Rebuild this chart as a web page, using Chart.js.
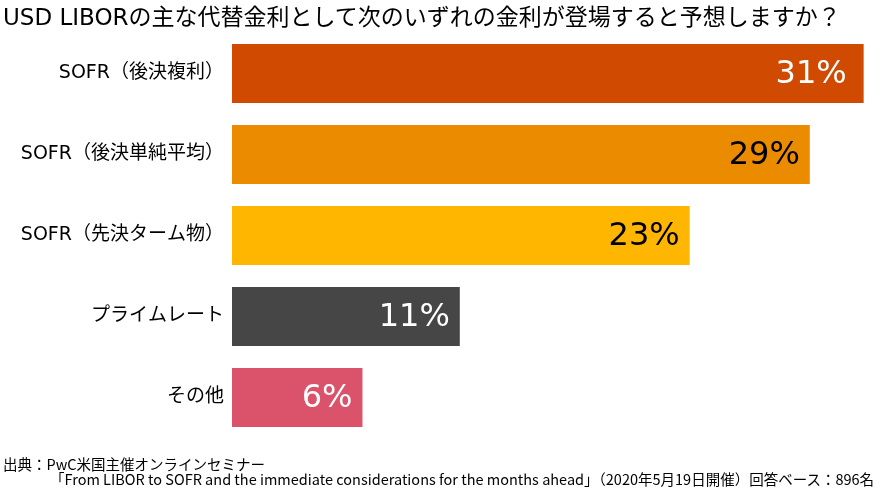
<!DOCTYPE html>
<html>
<head>
<meta charset="utf-8">
<script src="https://cdn.jsdelivr.net/npm/chart.js@4"></script>
<style>
  body { margin: 0; background: #fff; }
  #wrap { position: relative; width: 883px; height: 494px; font-family: "DejaVu Sans", "Noto Sans CJK JP", sans-serif; color: #000; }
  #title { position: absolute; left: 3px; top: -2px; font-size: 23px; white-space: nowrap; }
  #source { position: absolute; left: 3px; top: 456px; font-family: "Noto Sans CJK JP", sans-serif; font-size: 14.5px; line-height: 15px; white-space: nowrap; }
  #source .l2 { padding-left: 47px; }
  canvas { position: absolute; left: 0; top: 0; }
</style>
</head>
<body>
<div id="wrap">
  <canvas id="chart" width="883" height="494"></canvas>
  <div id="title">USD LIBORの主な代替金利として次のいずれの金利が登場すると予想しますか？</div>
  <div id="source">出典：PwC米国主催オンラインセミナー<br><span class="l2">「From LIBOR to SOFR and the immediate considerations for the months ahead」（2020年5月19日開催）回答ベース：896名</span></div>
</div>
<script>
const categories = ['SOFR（後決複利）', 'SOFR（後決単純平均）', 'SOFR（先決ターム物）', 'プライムレート', 'その他'];
// bar lengths as drawn in the picture (percent)
const values = [30.5, 27.9, 22.1, 11.0, 6.3];
// labels printed on the bars
const valueLabels = ['31%', '29%', '23%', '11%', '6%'];
const barColors = ['#D04A02', '#EB8C00', '#FFB600', '#464646', '#DB536A'];
const labelColors = ['#ffffff', '#000000', '#000000', '#ffffff', '#ffffff'];

// draws the percent text inside the end of each bar
const barLabels = {
    id: 'barLabels',
    afterDatasetsDraw(chart) {
        const ctx = chart.ctx;
        const meta = chart.getDatasetMeta(0);
        ctx.save();
        ctx.font = '32px "DejaVu Sans", sans-serif';
        ctx.textAlign = 'right';
        ctx.textBaseline = 'middle';
        meta.data.forEach((bar, i) => {
            ctx.fillStyle = labelColors[i];
            ctx.fillText(valueLabels[i], bar.x - (i === 0 ? 17 : 10), bar.y + 1);
        });
        ctx.restore();
    }
};

const ctx = document.getElementById('chart').getContext('2d');
const myChart = new Chart(ctx, {
    type: 'bar',
    data: {
        labels: categories,
        datasets: [{
            data: values,
            backgroundColor: barColors,
            borderWidth: 0,
            barPercentage: 0.73,
            categoryPercentage: 1
        }]
    },
    options: {
        indexAxis: 'y',
        responsive: false,
        animation: false,
        layout: {
            padding: { top: 33, bottom: 56, left: 0, right: 9 }
        },
        plugins: {
            legend: { display: false },
            tooltip: { enabled: false }
        },
        scales: {
            x: {
                display: false,
                min: 0,
                max: 31
            },
            y: {
                grid: { display: false },
                border: { display: false },
                ticks: {
                    color: '#000',
                    padding: 0,
                    font: { size: 19, family: '"DejaVu Sans", "Noto Sans CJK JP", sans-serif' }
                },
                afterFit(scale) {
                    scale.width = 232;
                }
            }
        }
    },
    plugins: [barLabels]
});
</script>
</body>
</html>
